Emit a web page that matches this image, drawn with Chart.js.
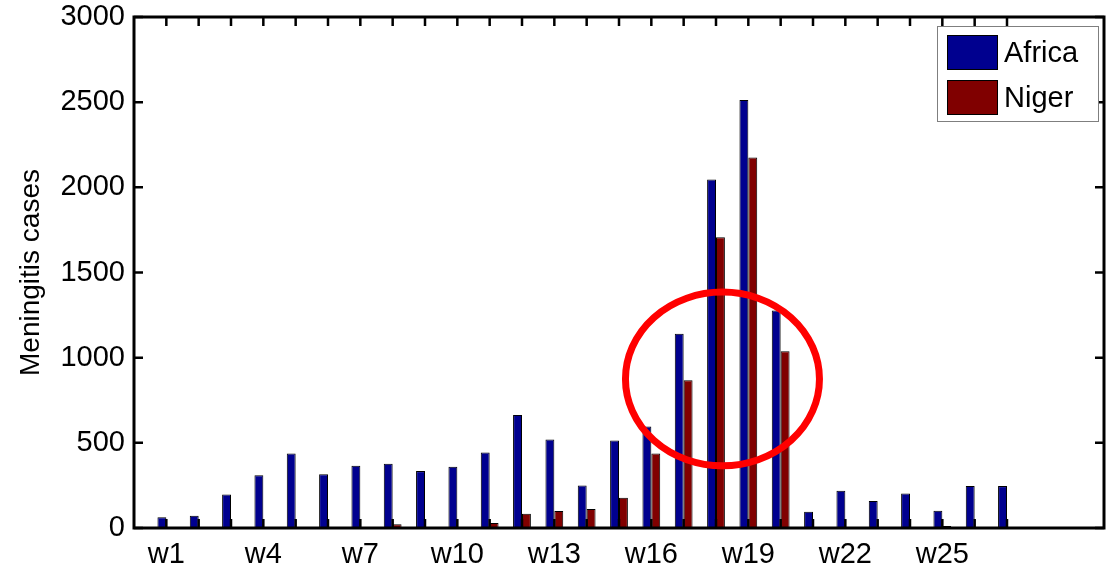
<!DOCTYPE html>
<html>
<head>
<meta charset="utf-8">
<title>Meningitis cases per week</title>
<script src="https://cdn.jsdelivr.net/npm/chart.js@4"></script>
<style>
  html, body { margin: 0; padding: 0; background: #fff; }
  #wrap { width: 1107px; height: 575px; position: relative; }
</style>
</head>
<body>
<div id="wrap"><canvas id="myChart"></canvas></div>
<script>
// weekly counts, weeks 1..27
const weeks = [1, 2, 3, 4, 5, 6, 7, 8, 9, 10, 11, 12, 13, 14, 15, 16, 17, 18, 19, 20, 21, 22, 23, 24, 25, 26, 27];
const africa = [63, 72, 197, 309, 438, 316, 365, 377, 334, 359, 443, 664, 519, 250, 514, 596, 1141, 2046, 2513, 1277, 96, 219, 159, 202, 101, 246, 246];
const niger = [0, 0, 0, 0, 0, 0, 6, 22, 5, 6, 30, 84, 100, 111, 178, 438, 867, 1707, 2175, 1037, 0, 0, 0, 0, 12, 0, 0];
const labeledWeeks = [1, 4, 7, 10, 13, 16, 19, 22, 25];
const yTicks = [0, 500, 1000, 1500, 2000, 2500, 3000];

// ring drawn around the epidemic peak (in data units)
const ring = { week: 18.2, cases: 875, rWeeks: 3.0, rCases: 510 };

const FONT = 'Liberation Sans, Arial, Helvetica, sans-serif';
const TICK_LEN = 9;

// drop the half-label overhang so layout.padding alone places the plot box
function noOverhang(s) {
  s.paddingTop = 0;
  s.paddingBottom = 0;
  s.paddingLeft = 0;
  s.paddingRight = 0;
}

// matlab-like box with inward ticks on all four sides
const frame = {
  id: 'frame',
  afterDatasetsDraw(chart) {
    const { ctx, chartArea: a, scales: { x, y } } = chart;
    ctx.save();
    ctx.strokeStyle = '#000';
    ctx.lineWidth = 2.5;
    ctx.beginPath();
    x.ticks.forEach(t => {
      const px = x.getPixelForValue(t.value);
      ctx.moveTo(px, a.bottom);
      ctx.lineTo(px, a.bottom - TICK_LEN);
      ctx.moveTo(px, a.top);
      ctx.lineTo(px, a.top + TICK_LEN);
    });
    y.ticks.forEach(t => {
      const py = y.getPixelForValue(t.value);
      ctx.moveTo(a.left, py);
      ctx.lineTo(a.left + TICK_LEN, py);
      ctx.moveTo(a.right, py);
      ctx.lineTo(a.right - TICK_LEN, py);
    });
    ctx.stroke();
    ctx.lineWidth = 3;
    ctx.strokeRect(a.left, a.top, a.width, a.height);
    ctx.restore();
  }
};

const peakRing = {
  id: 'peakRing',
  afterDatasetsDraw(chart) {
    const { ctx, scales: { x, y } } = chart;
    const cx = x.getPixelForValue(ring.week);
    const cy = y.getPixelForValue(ring.cases);
    const rx = x.getPixelForValue(ring.week + ring.rWeeks) - cx;
    const ry = cy - y.getPixelForValue(ring.cases + ring.rCases);
    ctx.save();
    ctx.strokeStyle = '#ff0000';
    ctx.lineWidth = 7;
    ctx.beginPath();
    ctx.ellipse(cx, cy, rx, ry, 0, 0, Math.PI * 2);
    ctx.stroke();
    ctx.restore();
  }
};

// boxed legend in the upper right corner of the plot
const boxLegend = {
  id: 'boxLegend',
  afterDraw(chart) {
    const { ctx, chartArea: a } = chart;
    const left = a.right - 167, top = a.top + 9, w = 162, h = 96;
    ctx.save();
    ctx.fillStyle = '#fff';
    ctx.fillRect(left, top, w, h);
    ctx.strokeStyle = '#7f7f7f';
    ctx.lineWidth = 1;
    ctx.strokeRect(left + 0.5, top + 0.5, w - 1, h - 1);
    ctx.font = '29px ' + FONT;
    ctx.textBaseline = 'middle';
    chart.data.datasets.forEach((ds, i) => {
      const sy = top + 9 + i * 45;
      ctx.fillStyle = ds.backgroundColor;
      ctx.fillRect(left + 10, sy, 51, 35);
      ctx.strokeStyle = '#000';
      ctx.strokeRect(left + 10.5, sy + 0.5, 50, 34);
      ctx.fillStyle = '#000';
      ctx.fillText(ds.label, left + 67, sy + 19);
    });
    ctx.restore();
  }
};

const ctx = document.getElementById('myChart');

new Chart(ctx, {
  type: 'bar',
  data: {
    datasets: [
      {
        label: 'Africa',
        data: weeks.map((w, i) => ({ x: w, y: africa[i] })),
        backgroundColor: '#00008f',
        borderColor: '#000',
        borderWidth: 1
      },
      {
        label: 'Niger',
        data: weeks.map((w, i) => ({ x: w, y: niger[i] })),
        backgroundColor: '#800000',
        borderColor: '#000',
        borderWidth: 1
      }
    ]
  },
  options: {
    animation: false,
    responsive: true,
    maintainAspectRatio: false,
    devicePixelRatio: 1,
    layout: { padding: { left: 0, right: 3, top: 17, bottom: 0 } },
    datasets: { bar: { categoryPercentage: 0.55, barPercentage: 1.0 } },
    plugins: {
      legend: { display: false },
      tooltip: { enabled: false }
    },
    scales: {
      x: {
        type: 'linear',
        offset: false,
        min: 0,
        max: 30,
        grid: { display: false, drawTicks: false },
        border: { display: false },
        afterBuildTicks: s => { s.ticks = weeks.map(v => ({ value: v })); },
        afterFit: s => { noOverhang(s); s.height = 47; },
        ticks: {
          autoSkip: false,
          maxRotation: 0,
          padding: 10,
          color: '#000',
          font: { family: FONT, size: 29 },
          callback: v => labeledWeeks.includes(v) ? 'w' + v : ''
        }
      },
      y: {
        min: 0,
        max: 3000,
        grid: { display: false, drawTicks: false },
        border: { display: false },
        afterBuildTicks: s => { s.ticks = yTicks.map(v => ({ value: v })); },
        afterFit: s => { noOverhang(s); s.width = 134; },
        ticks: {
          padding: 9,
          color: '#000',
          font: { family: FONT, size: 29 },
          callback: v => String(v)
        },
        title: {
          display: true,
          text: 'Meningitis cases',
          color: '#000',
          font: { family: FONT, size: 28 },
          padding: { top: 14, bottom: 0 }
        }
      }
    }
  },
  plugins: [frame, peakRing, boxLegend]
});
</script>
</body>
</html>
